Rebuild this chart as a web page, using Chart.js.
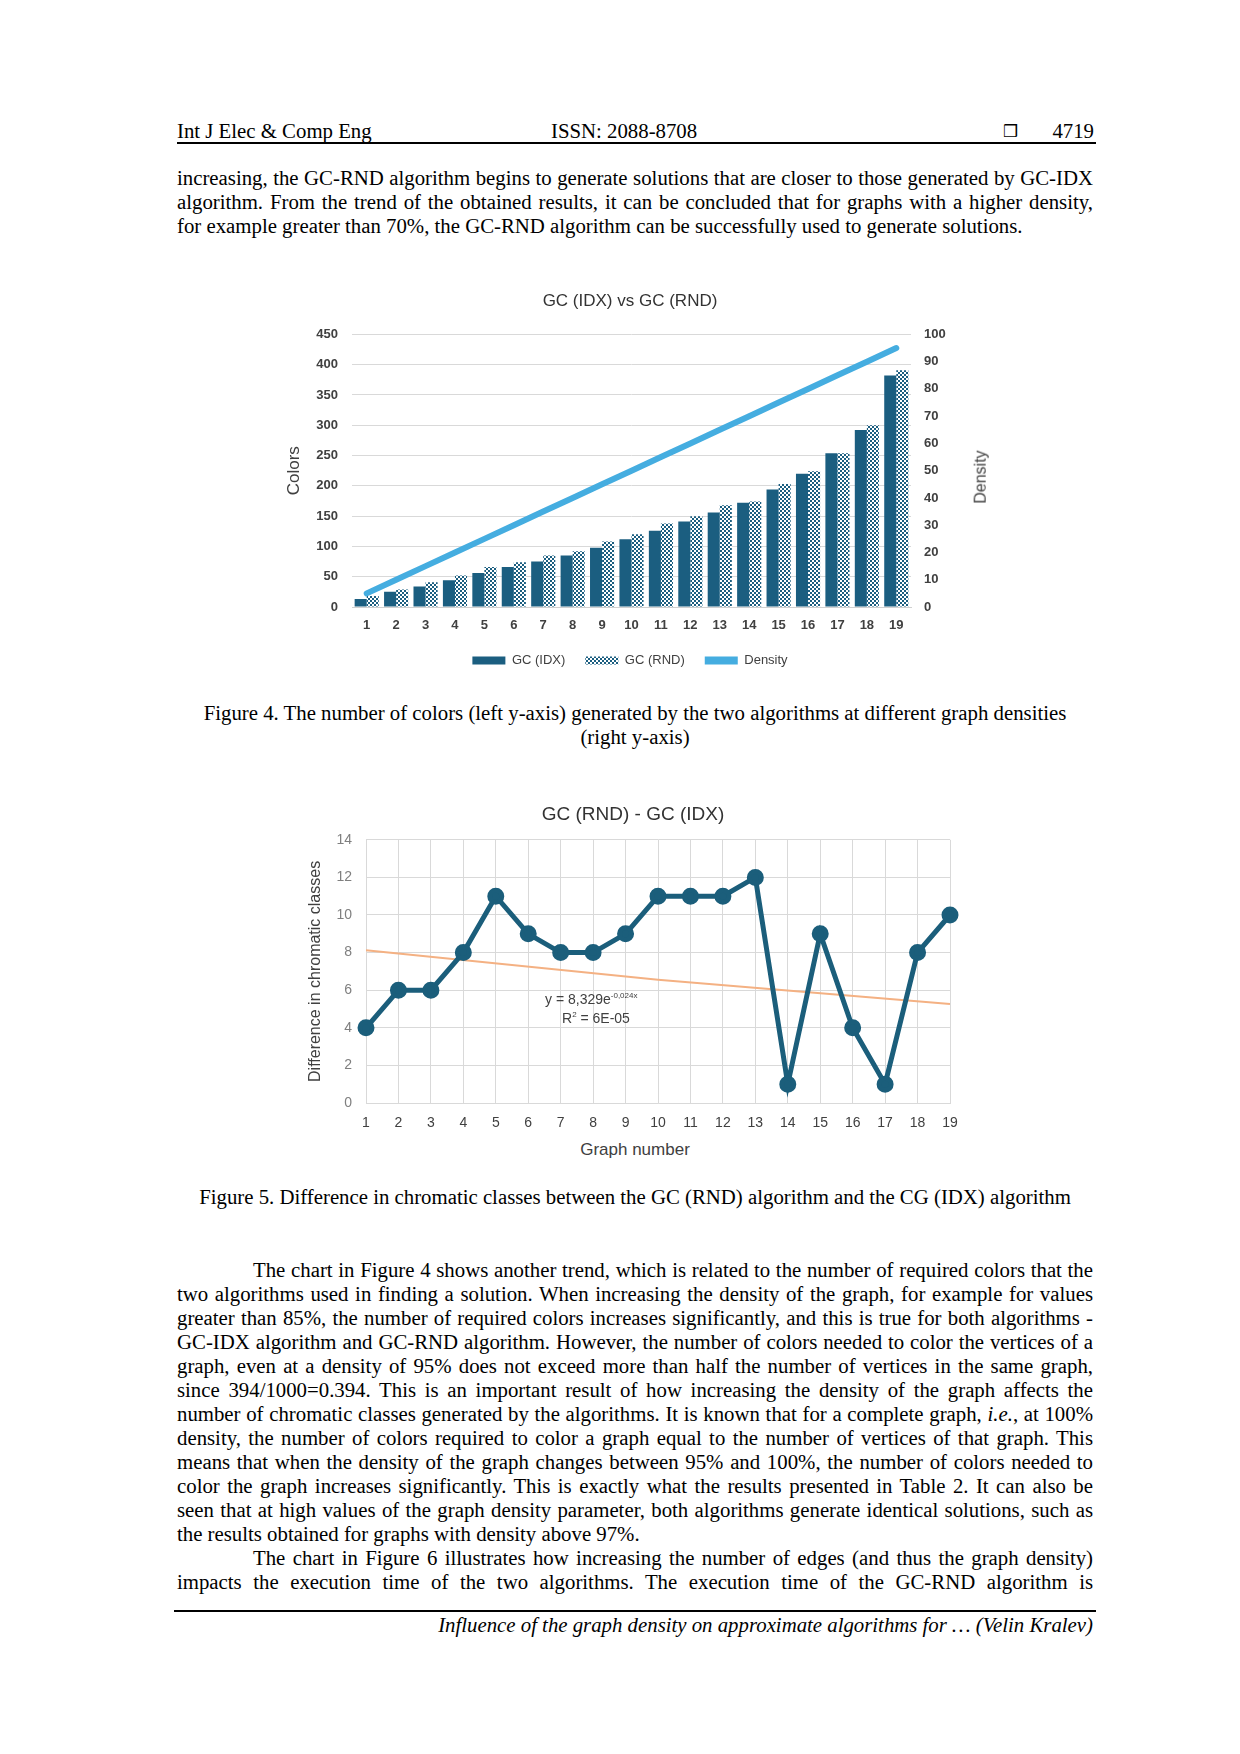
<!DOCTYPE html>
<html lang="en">
<head>
<meta charset="UTF-8" />
<title>GC (IDX) vs GC (RND)</title>
<script src="https://cdn.jsdelivr.net/npm/chart.js"></script>
<style>
  body{margin:0;background:#fff;}
  #page{position:relative;width:1240px;height:1754px;background:#fff;font-family:"Liberation Serif","Times New Roman",serif;color:#000;font-size:20.8px;}
  .abs{position:absolute;white-space:nowrap;line-height:24px;}
  .para{position:absolute;left:177px;width:916px;line-height:24px;}
  .para div{text-align:justify;text-align-last:justify;white-space:nowrap;height:24px;overflow:visible;}
  .para div.last{text-align-last:left;}
  .para div.ind{padding-left:76px;}
  .cap{position:absolute;left:0;width:1270px;text-align:center;line-height:24px;}
  .rule{position:absolute;background:#000;}
  .note{position:absolute;font-family:"Liberation Sans",Arial,sans-serif;color:#404040;white-space:nowrap;}
</style>
</head>
<body>
<div id="page">
  <div class="abs" style="left:177px;top:119px;">Int J Elec &amp; Comp Eng</div>
  <div class="abs" style="left:551px;top:119px;">ISSN: 2088-8708</div>
  <div class="abs" style="left:1003px;top:119px;font-family:'DejaVu Sans';font-size:17px;">&#10066;</div>
  <div class="abs" style="right:146px;top:119px;">4719</div>
  <div class="rule" style="left:177px;top:142px;width:919px;height:1.5px;"></div>

  <div class="para" style="top:166px;">
    <div>increasing, the GC-RND algorithm begins to generate solutions that are closer to those generated by GC-IDX</div>
    <div>algorithm. From the trend of the obtained results, it can be concluded that for graphs with a higher density,</div>
    <div class="last">for example greater than 70%, the GC-RND algorithm can be successfully used to generate solutions.</div>
  </div>

  <div id="box1" style="position:absolute;left:250px;top:280px;width:760px;height:403px;"><canvas id="chart1"></canvas></div>
  <div class="note" style="left:954px;top:468px;font-size:16px;transform:rotate(-90deg);transform-origin:center;">Density</div>

  <div class="cap" style="top:701px;">Figure 4. The number of colors (left y-axis) generated by the two algorithms at different graph densities</div>
  <div class="cap" style="top:725px;">(right y-axis)</div>

  <div id="box2" style="position:absolute;left:280px;top:790px;width:706px;height:342px;"><canvas id="chart2"></canvas></div>
  <div class="note" style="left:545px;top:991px;font-size:14px;">y = 8,329e<sup style="font-size:8px;">-0,024x</sup></div>
  <div class="note" style="left:562px;top:1010px;font-size:14px;">R<sup style="font-size:8px;">2</sup> = 6E-05</div>
  <div class="note" style="left:535px;top:1140px;width:200px;text-align:center;font-size:17px;line-height:20px;">Graph number</div>

  <div class="cap" style="top:1185px;">Figure 5. Difference in chromatic classes between the GC (RND) algorithm and the CG (IDX) algorithm</div>

  <div class="para" style="top:1258px;">
    <div class="ind">The chart in Figure 4 shows another trend, which is related to the number of required colors that the</div>
    <div>two algorithms used in finding a solution. When increasing the density of the graph, for example for values</div>
    <div>greater than 85%, the number of required colors increases significantly, and this is true for both algorithms -</div>
    <div>GC-IDX algorithm and GC-RND algorithm. However, the number of colors needed to color the vertices of a</div>
    <div>graph, even at a density of 95% does not exceed more than half the number of vertices in the same graph,</div>
    <div>since 394/1000=0.394. This is an important result of how increasing the density of the graph affects the</div>
    <div>number of chromatic classes generated by the algorithms. It is known that for a complete graph, <i>i.e.</i>, at 100%</div>
    <div>density, the number of colors required to color a graph equal to the number of vertices of that graph. This</div>
    <div>means that when the density of the graph changes between 95% and 100%, the number of colors needed to</div>
    <div>color the graph increases significantly. This is exactly what the results presented in Table 2. It can also be</div>
    <div>seen that at high values of the graph density parameter, both algorithms generate identical solutions, such as</div>
    <div class="last">the results obtained for graphs with density above 97%.</div>
    <div class="ind">The chart in Figure 6 illustrates how increasing the number of edges (and thus the graph density)</div>
    <div>impacts the execution time of the two algorithms. The execution time of the GC-RND algorithm is</div>
  </div>

  <div class="rule" style="left:174px;top:1610px;width:922px;height:2px;"></div>
  <div class="abs" style="right:147px;top:1613px;font-style:italic;">Influence of the graph density on approximate algorithms for … (Velin Kralev)</div>
</div>

<script>
  // squeeze any justified line that would run past the text block
  document.querySelectorAll('.para div').forEach(d => {
    let ls = 0;
    while (d.scrollWidth > d.clientWidth + 0.5 && ls > -1.5) {
      ls -= 0.05;
      d.style.letterSpacing = ls + 'px';
    }
  });

  // figure 4 data
  const graphs = ['1','2','3','4','5','6','7','8','9','10','11','12','13','14','15','16','17','18','19'];
  const gcIdx = [13, 25, 34, 44, 56, 66, 75, 85, 98, 112, 126, 141, 156, 172, 194, 220, 254, 292, 382];
  const gcRnd = [18, 29, 41, 52, 66, 74, 85, 92, 108, 120, 138, 150, 168, 174, 203, 224, 254, 300, 391];
  const density = [5, 10, 15, 20, 25, 30, 35, 40, 45, 50, 55, 60, 65, 70, 75, 80, 85, 90, 95];

  // figure 5 data
  const diffRndIdx = [4, 6, 6, 8, 11, 9, 8, 8, 9, 11, 11, 11, 12, 1, 9, 4, 1, 8, 10];
  const trendAt = ['1', '10', '19'];
  const trendVal = [8.13, 6.55, 5.27];

  const BLUE = '#1b5e80';
  const SANS = '"Liberation Sans", Arial, sans-serif';
  const legendOrder = ['GC (IDX)', 'GC (RND)', 'Density'];

  // checkered fill for GC (RND)
  function checker() {
    const c = document.createElement('canvas');
    c.width = 4; c.height = 4;
    const g = c.getContext('2d');
    g.fillStyle = '#fff'; g.fillRect(0, 0, 4, 4);
    g.fillStyle = BLUE;
    g.fillRect(0, 0, 2, 2); g.fillRect(2, 2, 2, 2);
    return g.createPattern(c, 'repeat');
  }

  new Chart(document.getElementById('chart1'), {
    data: {
      labels: graphs,
      datasets: [
        { type: 'line', label: 'Density', data: density, yAxisID: 'y1', borderColor: '#45ade0', backgroundColor: '#45ade0',
          borderWidth: 6, pointRadius: 0, order: 0, borderCapStyle: 'round' },
        { type: 'bar', label: 'GC (IDX)', data: gcIdx, backgroundColor: BLUE, categoryPercentage: 0.82, barPercentage: 1, order: 1 },
        { type: 'bar', label: 'GC (RND)', data: gcRnd, backgroundColor: checker(), categoryPercentage: 0.82, barPercentage: 1, order: 2 }
      ]
    },
    options: {
      responsive: true, maintainAspectRatio: false, animation: false,
      layout: { padding: { left: 0, right: 0, top: 0, bottom: 6 } },
      plugins: {
        title: { display: true, text: 'GC (IDX) vs GC (RND)', color: '#333', font: { family: SANS, size: 17, weight: 'normal' }, padding: { top: 11, bottom: 23 } },
        legend: {
          position: 'bottom',
          labels: {
            boxWidth: 33, boxHeight: 8, padding: 20, color: '#404040', font: { family: SANS, size: 13 },
            generateLabels: chart => {
              const items = Chart.defaults.plugins.legend.labels.generateLabels(chart);
              items.forEach(it => { if (it.text === 'Density') it.lineWidth = 0; });
              return items;
            },
            sort: (a, b) => legendOrder.indexOf(a.text) - legendOrder.indexOf(b.text)
          }
        },
        tooltip: { enabled: false }
      },
      scales: {
        x: {
          grid: { display: false, drawTicks: false },
          border: { color: '#d0d0d0' },
          ticks: { padding: 11, color: '#404040', font: { family: SANS, size: 13, weight: 'bold' } },
          afterFit: s => { s.height = 27; }
        },
        y: {
          position: 'left', min: 0, max: 450,
          ticks: { stepSize: 50, padding: 14, color: '#404040', font: { family: SANS, size: 13, weight: 'bold' } },
          grid: { color: '#d9d9d9', drawTicks: false },
          border: { display: false },
          title: { display: true, text: 'Colors', color: '#404040', font: { family: SANS, size: 17 }, padding: { top: 34, bottom: 0 } },
          afterFit: s => { s.width = 102; }
        },
        y1: {
          position: 'right', min: 0, max: 100,
          ticks: { stepSize: 10, padding: 13, color: '#404040', font: { family: SANS, size: 13, weight: 'bold' } },
          grid: { display: false, drawTicks: false },
          border: { display: false },
          afterFit: s => { s.width = 99; }
        }
      }
    }
  });

  new Chart(document.getElementById('chart2'), {
    type: 'line',
    data: {
      labels: graphs,
      datasets: [
        { label: 'GC (RND) - GC (IDX)', data: diffRndIdx, borderColor: '#1b5e7b', backgroundColor: '#1b5e7b',
          borderWidth: 5, pointRadius: 6, pointHoverRadius: 6, order: 0 },
        { label: 'trend', data: trendAt.map((x, i) => ({ x: x, y: trendVal[i] })), borderColor: '#f4b183',
          borderWidth: 2, pointRadius: 0, order: 1 }
      ]
    },
    options: {
      responsive: true, maintainAspectRatio: false, animation: false,
      layout: { padding: 0 },
      plugins: {
        title: { display: true, text: 'GC (RND) - GC (IDX)', color: '#333', font: { family: SANS, size: 19, weight: 'normal' }, padding: { top: 13, bottom: 14 } },
        legend: { display: false },
        tooltip: { enabled: false }
      },
      scales: {
        x: {
          offset: false,
          grid: { color: '#d9d9d9', drawTicks: false },
          border: { color: '#d9d9d9' },
          ticks: { padding: 12, color: '#404040', font: { family: SANS, size: 14 } },
          afterFit: s => { s.height = 29; }
        },
        y: {
          min: 0, max: 14,
          ticks: { stepSize: 2, padding: 14, color: '#7f7f7f', font: { family: SANS, size: 14 } },
          grid: { color: '#d9d9d9', drawTicks: false },
          border: { color: '#d9d9d9' },
          title: { display: true, text: 'Difference in chromatic classes', color: '#404040', font: { family: SANS, size: 16 }, padding: { top: 26, bottom: 0 } },
          afterFit: s => { s.width = 86; }
        },
        // empty right-hand strip so the title centres like the original
        yPad: {
          position: 'right', display: true,
          ticks: { display: false }, grid: { display: false }, border: { display: false },
          afterFit: s => { s.width = 36; }
        }
      }
    }
  });
</script>
</body>
</html>
